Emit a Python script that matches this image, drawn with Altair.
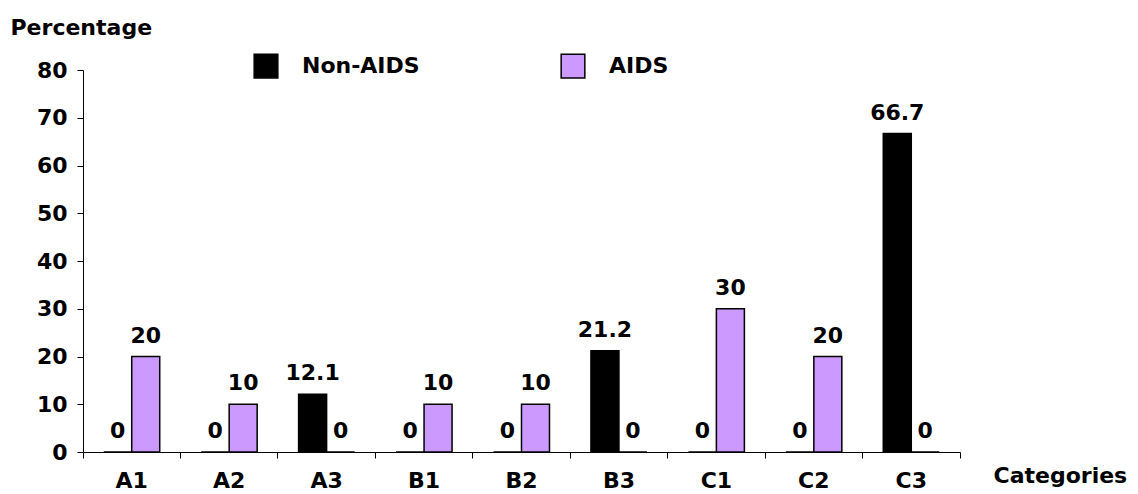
import altair as alt
import pandas as pd

categories = ["A1", "A2", "A3", "B1", "B2", "B3", "C1", "C2", "C3"]
non_aids = [0, 0, 12.1, 0, 0, 21.2, 0, 0, 66.7]
aids = [20, 10, 0, 10, 10, 0, 30, 20, 0]
series = ["Non-AIDS", "AIDS"]
colors = ["#000000", "#CC99FF"]

rows = []
for c, a, b in zip(categories, non_aids, aids):
    rows.append({"cat": c, "group": "Non-AIDS", "value": a})
    rows.append({"cat": c, "group": "AIDS", "value": b})
df = pd.DataFrame(rows)

FONT = "DejaVu Sans"
FS = 22

x_enc = alt.X(
    "cat:N",
    sort=categories,
    scale=alt.Scale(paddingInner=0, paddingOuter=0),
    axis=alt.Axis(
        title="Categories",
        titleX=910, titleY=30, titleAlign="left", titleBaseline="alphabetic",
        titleAngle=0,
        labelAngle=0,
        bandPosition=1, tickExtra=True,
        tickSize=6, labelPadding=12,
    ),
)
xoff = alt.XOffset("group:N", sort=series, scale=alt.Scale(paddingOuter=0.74, paddingInner=0))

base = alt.Chart(df)

bars = base.mark_bar(stroke="black", strokeWidth=1.5).encode(
    x=x_enc,
    xOffset=xoff,
    y=alt.Y(
        "value:Q",
        scale=alt.Scale(domain=[0, 80], nice=False),
        axis=alt.Axis(
            values=list(range(0, 81, 10)),
            title="Percentage",
            titleAngle=0, titleAlign="left", titleBaseline="alphabetic",
            titleX=-73, titleY=-36,
            grid=False, tickSize=6, labelPadding=10,
        ),
    ),
    color=alt.Color(
        "group:N",
        sort=series,
        scale=alt.Scale(domain=series, range=colors),
        legend=alt.Legend(
            title=None, orient="none", legendX=170, legendY=-17,
            direction="horizontal", symbolType="square", symbolSize=560,
            symbolStrokeColor="black", symbolStrokeWidth=1.5,
            labelOffset=23, columnPadding=138, padding=0,
            labelFontSize=FS, labelFont=FONT, labelFontWeight="bold",
            labelColor="black",
        ),
    ),
)

labels = base.mark_text(
    baseline="alphabetic", dy=-14, font=FONT, fontSize=FS, fontWeight="bold", color="black"
).encode(
    x=alt.X("cat:N", sort=categories),
    xOffset=xoff,
    y="value:Q",
    text=alt.Text("value:Q"),
)

chart = (
    alt.layer(bars, labels)
    .properties(
        width=877, height=382,
        autosize=alt.AutoSizeParams(type="none"),
        padding={"left": 75, "top": 62, "right": 170, "bottom": 42},
    )
    .configure_view(stroke=None)
    .configure_axis(
        labelFont=FONT, labelFontSize=FS, labelFontWeight="bold", labelColor="black",
        titleFont=FONT, titleFontSize=FS, titleFontWeight="bold", titleColor="black",
        domainColor="black", tickColor="black", domainWidth=1, tickWidth=1,
    )
)

chart.save("out.html", embed_options={"renderer": "svg", "actions": False})
